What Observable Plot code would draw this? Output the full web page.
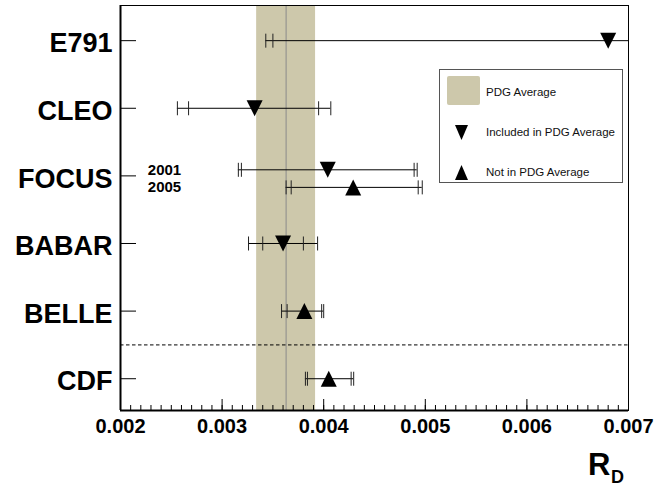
<!DOCTYPE html>
<html>
<head>
<meta charset="utf-8">
<script src="https://cdn.jsdelivr.net/npm/d3@7"></script>
<script src="https://cdn.jsdelivr.net/npm/@observablehq/plot@0.6"></script>
<style>
  html, body { margin: 0; padding: 0; background: white; }
  #wrap { position: relative; width: 656px; height: 487px; overflow: hidden; font-family: "Liberation Sans", Arial, sans-serif; }
  #legend { position: absolute; left: 439px; top: 69px; width: 184px; height: 114px; border: 1px solid #555; background: white; box-sizing: border-box; }
  #legend .sw { position: absolute; left: 7px; top: 6px; width: 33px; height: 29px; background: #cdc8ab; border-radius: 2px; }
  #legend .tx { position: absolute; left: 46px; font-size: 11.5px; line-height: 14px; color: #111; white-space: nowrap; }
  #legend svg { position: absolute; left: 15px; }
  #rd { position: absolute; left: 588px; top: 449px; font-weight: bold; font-size: 31px; line-height: 31px; }
  #rdsub { position: absolute; left: 611px; top: 469px; font-weight: bold; font-size: 18px; line-height: 16px; }
</style>
</head>
<body>
<div id="wrap">
  <div id="chart"></div>
  <div id="legend">
    <div class="sw"></div>
    <div class="tx" style="top:15px">PDG Average</div>
    <svg width="14" height="16" style="top:55px"><path d="M0,0L13,0L6.5,15Z" fill="black"/></svg>
    <div class="tx" style="top:55px">Included in PDG Average</div>
    <svg width="14" height="16" style="top:95px"><path d="M6.5,0L13,15L0,15Z" fill="black"/></svg>
    <div class="tx" style="top:95px">Not in PDG Average</div>
  </div>
  <div id="rd">R</div>
  <div id="rdsub">D</div>
</div>
<script>
// ---- data ----
const experiments = ["E791", "CLEO", "FOCUS", "BABAR", "BELLE", "CDF"];
const measExperiment = ["E791", "CLEO", "FOCUS", "FOCUS", "BABAR", "BELLE", "CDF"];
const measYear = ["", "", "2001", "2005", "", "", ""];
const rdValue = [0.00680, 0.00332, 0.00404, 0.00429, 0.00360, 0.00381, 0.00405];
const statLo  = [0.00330, 0.00065, 0.00085, 0.00061, 0.00020, 0.00017, 0.00021];
const statHi  = [0.00340, 0.00063, 0.00085, 0.00064, 0.00020, 0.00017, 0.00022];
const totLo   = [0.00337, 0.00076, 0.00088, 0.00066, 0.00034, 0.000225, 0.00023];
const totHi   = [0.00347, 0.00075, 0.00088, 0.00068, 0.00034, 0.00019, 0.000245];
const inPDG   = [true, true, true, false, true, false, false];
const pdgAverage = 0.00363;
const pdgError = 0.00029;
const xDomain = [0.002, 0.007];
const xTicks = [0.002, 0.003, 0.004, 0.005, 0.006, 0.007];
const xTickLabels = ["0.002", "0.003", "0.004", "0.005", "0.006", "0.007"];
const separatorAfter = "BELLE";

// ---- layout helpers ----
const yearOffset = {"": 0, "2001": -0.09, "2005": 0.17};
const yDomain = [5.47, -0.52];

const meas = rdValue.map((v, i) => ({
  v, exp: measExperiment[i], year: measYear[i],
  y: experiments.indexOf(measExperiment[i]) + yearOffset[measYear[i]],
  sLo: v - statLo[i], sHi: v + statHi[i], tLo: v - totLo[i], tHi: v + totHi[i],
  pdg: inPDG[i]
}));
const caps = meas.flatMap(m => [m.sLo, m.tLo, m.sHi, m.tHi].map(x => ({x, y: m.y})));
const minorTicks = d3.range(20, 71).map(i => i / 10000);

const capSymbol = {draw(ctx) { ctx.moveTo(0, -7); ctx.lineTo(0, 7); }};
const triDown = {draw(ctx) { ctx.moveTo(-8, -8); ctx.lineTo(8, -8); ctx.lineTo(0, 8); ctx.closePath(); }};
const triUp = {draw(ctx) { ctx.moveTo(0, -8); ctx.lineTo(8, 8); ctx.lineTo(-8, 8); ctx.closePath(); }};

const font = "Liberation Sans, Arial, sans-serif";

const chart = Plot.plot({
  width: 656,
  height: 487,
  marginLeft: 120,
  marginRight: 28,
  marginTop: 5,
  marginBottom: 77,
  style: {fontFamily: font, background: "white", color: "black"},
  x: {domain: xDomain, label: null},
  y: {domain: yDomain, label: null},
  marks: [
    Plot.rect([pdgAverage], {x1: d => d - pdgError, x2: d => d + pdgError, fill: "#cdc8ab"}),
    Plot.ruleX([pdgAverage], {stroke: "#8a8a8a", strokeWidth: 1}),
    Plot.ruleY([experiments.indexOf(separatorAfter) + 0.5], {stroke: "black", strokeDasharray: "3.5,2.5"}),
    Plot.ruleY(meas, {y: "y", x1: "tLo", x2: "tHi", stroke: "black", strokeWidth: 1, clip: true}),
    Plot.dot(caps, {x: "x", y: "y", symbol: capSymbol, stroke: "#222", fill: "none", strokeWidth: 1, clip: true}),
    Plot.dot(meas.filter(m => m.pdg), {x: "v", y: "y", symbol: triDown, fill: "black", stroke: "none", clip: true}),
    Plot.dot(meas.filter(m => !m.pdg), {x: "v", y: "y", symbol: triUp, fill: "black", stroke: "none", clip: true}),
    Plot.text(meas.filter(m => m.year), {y: "y", text: "year", frameAnchor: "left", dx: 44, textAnchor: "middle", fontSize: 15, fontWeight: "bold", fill: "black"}),
    Plot.frame({stroke: "black", strokeWidth: 1}),
    Plot.ruleX([xDomain[0]], {stroke: "black", strokeWidth: 2}),
    Plot.ruleY([yDomain[0]], {stroke: "black", strokeWidth: 2}),
    Plot.axisX(minorTicks, {tickSize: -5, tickFormat: () => "", label: null}),
    Plot.axisX(xTicks, {tickSize: -11, tickFormat: () => "", label: null}),
    Plot.axisX(xTicks, {tickSize: 0, tickPadding: 8, tickFormat: (d, i) => xTickLabels[i], fontSize: 20, fontWeight: "bold", label: null}),
    Plot.axisY(d3.range(experiments.length), {tickSize: -16, tickFormat: () => "", label: null}),
    Plot.axisY(d3.range(experiments.length), {tickSize: 0, tickPadding: 8, tickFormat: i => experiments[i], fontSize: 27, fontWeight: "bold", dy: 3, label: null})
  ]
});
document.getElementById("chart").appendChild(chart);
</script>
</body>
</html>
